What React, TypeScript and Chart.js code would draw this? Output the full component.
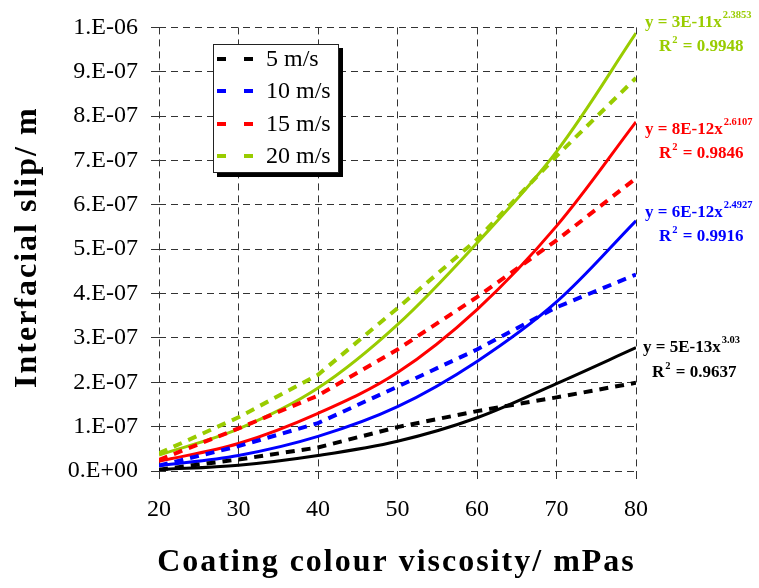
import { useEffect, useRef } from 'react';
import { Chart, registerables } from 'chart.js';

Chart.register(...registerables);

// Coating colour viscosity (mPas)
const viscosity = [20, 30, 40, 50, 60, 70, 80];

// Measured interfacial slip, in units of 1e-7 m
const UNIT = 1e-7;
const slip5 = [0.03, 0.26, 0.53, 0.99, 1.35, 1.66, 1.99];
const slip10 = [0.12, 0.56, 1.08, 1.9, 2.74, 3.69, 4.43];
const slip15 = [0.25, 0.96, 1.7, 2.74, 3.92, 5.2, 6.6];
const slip20 = [0.4, 1.21, 2.17, 3.67, 5.22, 7.1, 8.86];

// Power-law trend lines, in units of 1e-7 m
const trend5 = [0.03, 0.13, 0.35, 0.67, 1.2, 1.97, 2.78];
const trend10 = [0.12, 0.35, 0.78, 1.45, 2.47, 3.81, 5.64];
const trend15 = [0.22, 0.62, 1.3, 2.22, 3.64, 5.52, 7.87];
const trend20 = [0.36, 0.95, 1.87, 3.3, 5.14, 7.2, 9.87];

const speedLabels = ['5 m/s', '10 m/s', '15 m/s', '20 m/s'];
const seriesColors = ['#000000', '#0000FF', '#FF0000', '#99CC00'];
const fitCoef = ['5E-13', '6E-12', '8E-12', '3E-11'];
const fitExp = ['3.03', '2.4927', '2.6107', '2.3853'];
const fitR2 = ['0.9637', '0.9916', '0.9846', '0.9948'];

const xTickValues = [20, 30, 40, 50, 60, 70, 80];
const yTickSteps = [0, 1, 2, 3, 4, 5, 6, 7, 8, 9, 10];
const yTickLabels = [
  '0.E+00', '1.E-07', '2.E-07', '3.E-07', '4.E-07', '5.E-07',
  '6.E-07', '7.E-07', '8.E-07', '9.E-07', '1.E-06',
];

const xTitle = 'Coating colour viscosity/ mPas';
const yTitle = 'Interfacial slip/ m';

const measured = [slip5, slip10, slip15, slip20];
const trends = [trend5, trend10, trend15, trend20];

const SERIF = "'Liberation Serif', 'Times New Roman', serif";

// Placement of the fit equations (left x of each line, centre y of the two rows)
const eqLayout = [
  { x: 643, xr: 652, y1: 348, y2: 373 },
  { x: 645, xr: 659, y1: 213, y2: 237 },
  { x: 645, xr: 659, y1: 130, y2: 154 },
  { x: 645, xr: 659, y1: 23, y2: 47 },
];

const toPoints = (vals: number[]) => vals.map((v, i) => ({ x: viscosity[i], y: v * UNIT }));

const boxLegend = {
  id: 'boxLegend',
  afterDraw(chart: any) {
    const ctx = chart.ctx as CanvasRenderingContext2D;
    const left = 213, top = 44, w = 126, h = 129;
    ctx.save();
    ctx.fillStyle = '#000';
    ctx.fillRect(left + 4, top + 4, w, h);
    ctx.fillStyle = '#fff';
    ctx.fillRect(left, top, w, h);
    ctx.strokeStyle = '#222';
    ctx.lineWidth = 1;
    ctx.strokeRect(left + 0.5, top + 0.5, w - 1, h - 1);
    const rows = [59, 91, 124, 156];
    speedLabels.forEach((label, i) => {
      const y = rows[i];
      ctx.fillStyle = seriesColors[i];
      ctx.fillRect(217, y - 2, 9, 4);
      ctx.fillRect(244, y - 2, 9, 4);
      ctx.fillStyle = '#000';
      ctx.font = `24px ${SERIF}`;
      ctx.textBaseline = 'middle';
      ctx.textAlign = 'left';
      ctx.fillText(label, 266, y + 1);
    });
    ctx.restore();
  },
};

const axisTitles = {
  id: 'axisTitles',
  afterDraw(chart: any) {
    const ctx = chart.ctx as CanvasRenderingContext2D;
    const area = chart.chartArea;
    ctx.save();
    (ctx as any).letterSpacing = '2px';
    ctx.fillStyle = '#000';
    ctx.font = `bold 32px ${SERIF}`;
    ctx.textAlign = 'center';
    ctx.textBaseline = 'middle';
    ctx.fillText(xTitle, (area.left + area.right) / 2 - 1, 563);
    ctx.translate(28, (area.top + area.bottom) / 2 - 2);
    ctx.rotate(-Math.PI / 2);
    ctx.fillText(yTitle, 0, 0);
    ctx.restore();
  },
};

const fitLabels = {
  id: 'fitLabels',
  afterDraw(chart: any) {
    const ctx = chart.ctx as CanvasRenderingContext2D;
    ctx.save();
    ctx.textBaseline = 'middle';
    ctx.textAlign = 'left';
    eqLayout.forEach((pos, i) => {
      ctx.fillStyle = seriesColors[i];
      ctx.font = `bold 17px ${SERIF}`;
      const main = `y = ${fitCoef[i]}x`;
      ctx.fillText(main, pos.x, pos.y1);
      const mw = ctx.measureText(main).width;
      ctx.font = `bold 10.5px ${SERIF}`;
      ctx.fillText(fitExp[i], pos.x + mw + 1, pos.y1 - 8);

      ctx.font = `bold 17px ${SERIF}`;
      ctx.fillText('R', pos.xr, pos.y2);
      const rw = ctx.measureText('R').width;
      ctx.font = `bold 10.5px ${SERIF}`;
      ctx.fillText('2', pos.xr + rw + 1, pos.y2 - 7);
      const sw = ctx.measureText('2').width;
      ctx.font = `bold 17px ${SERIF}`;
      ctx.fillText(` = ${fitR2[i]}`, pos.xr + rw + sw + 2, pos.y2);
    });
    ctx.restore();
  },
};

export default function App() {
  const canvasRef = useRef<HTMLCanvasElement | null>(null);

  useEffect(() => {
    const canvas = canvasRef.current;
    if (!canvas) return;

    const datasets: any[] = [];
    measured.forEach((vals, i) => {
      datasets.push({
        label: speedLabels[i],
        data: toPoints(vals),
        showLine: true,
        borderColor: seriesColors[i],
        backgroundColor: seriesColors[i],
        borderWidth: 4,
        borderDash: [9, 7],
        borderCapStyle: 'butt',
        pointRadius: 0,
        tension: 0,
      });
    });
    trends.forEach((vals, i) => {
      datasets.push({
        label: `${speedLabels[i]} fit`,
        data: toPoints(vals),
        showLine: true,
        borderColor: seriesColors[i],
        backgroundColor: seriesColors[i],
        borderWidth: 3,
        pointRadius: 0,
        tension: 0.35,
      });
    });

    const chart = new Chart(canvas, {
      type: 'scatter',
      data: { datasets },
      options: {
        animation: false,
        responsive: false,
        devicePixelRatio: 1,
        layout: { padding: { left: 0, right: 123, top: 24, bottom: 0 } },
        plugins: { legend: { display: false }, tooltip: { enabled: false } },
        scales: {
          x: {
            type: 'linear',
            min: 20,
            max: 80,
            afterBuildTicks: (s: any) => {
              s.ticks = xTickValues.map((v) => ({ value: v }));
            },
            afterFit: (s: any) => {
              s.height = 117;
            },
            grid: {
              color: '#333',
              lineWidth: 1,
              tickLength: 8,
              tickColor: '#333',
            },
            border: { display: false, dash: [7, 5] },
            ticks: {
              color: '#000',
              padding: 16,
              font: { family: SERIF, size: 24 },
            },
            title: { display: false },
          },
          y: {
            type: 'linear',
            min: 0,
            max: 10 * UNIT,
            afterBuildTicks: (s: any) => {
              s.ticks = yTickSteps.map((v) => ({ value: v * UNIT }));
            },
            afterFit: (s: any) => {
              s.width = 159;
            },
            grid: {
              color: '#333',
              lineWidth: 1,
              tickLength: 8,
              tickColor: '#333',
            },
            border: { display: false, dash: [7, 5] },
            ticks: {
              color: '#000',
              padding: 13,
              font: { family: SERIF, size: 24 },
              callback: (_v: any, idx: number) => yTickLabels[idx],
            },
            title: { display: false },
          },
        },
      },
      plugins: [boxLegend, fitLabels, axisTitles],
    });

    return () => chart.destroy();
  }, []);

  return (
    <div style={{ position: 'fixed', left: 0, top: 0, width: 759, height: 588, background: '#fff' }}>
      <canvas ref={canvasRef} width={759} height={588} style={{ display: 'block' }} />
    </div>
  );
}
